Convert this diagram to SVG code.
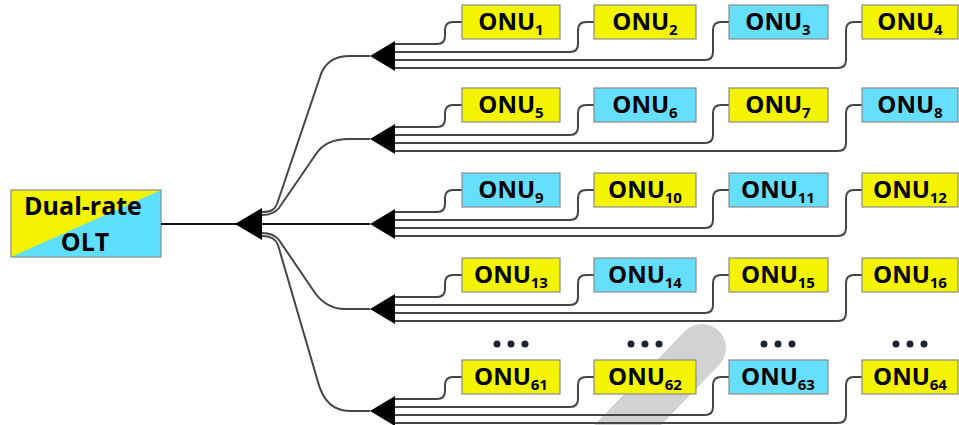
<svg xmlns="http://www.w3.org/2000/svg" width="959" height="425" viewBox="0 0 959 425">
  <style>
    .fiber { fill: none; stroke: #454545; stroke-width: 2; stroke-linecap: butt; }
    .trunk { fill: none; stroke: #111; stroke-width: 2; }
    .split { fill: #000; }
    .box { stroke: #8a8a8a; stroke-width: 1.2; }
    .y { fill: #f4f400; }
    .c { fill: #66dfff; }
    .lbl { font-family: "Open Sans", "Liberation Sans", sans-serif; font-weight: bold; font-size: 24px; fill: #000; text-anchor: middle; }
    .big { font-size: 25px; }
    .sub { font-size: 15px; }
    .dot { fill: #1c2533; }
  </style>

  <!-- light grey band behind the last row -->
  <line x1="702" y1="348" x2="592" y2="462" stroke="#d2d2d2" stroke-width="48" stroke-linecap="round"/>

  <!-- OLT -->
  <g id="olt">
    <rect x="11" y="190" width="150" height="67" fill="#5fdfff"/>
    <polygon points="11,190 161,190 11,257" fill="#f4f400"/>
    <rect x="11" y="190" width="150" height="67" fill="none" stroke="#8a8a8a" stroke-width="1.2"/>
    <text class="lbl big" x="83" y="215">Dual-rate</text>
    <text class="lbl big" x="85" y="251">OLT</text>
  </g>

  <!-- connectors: trunk, 1:5 split, and per-row fibers -->
  <g id="connectors">
    <line class="trunk" x1="161" y1="224" x2="370" y2="224"/>
    <path class="fiber" d="M262,212 C272,212 275,209 277,204 L320,77 C324,63 334,56 350,56 H370"/>
    <path class="fiber" d="M262,215 C270,215 275,213 279,208 L316,154 C322,145 331,139 350,139 H370"/>
    <path class="fiber" d="M262,233 C270,233 275,235 279,240 L313,290 C320,301 329,309 345,309 H370"/>
    <path class="fiber" d="M262,236 C270,236 276,239 278,245 L318,382 C323,401 333,411 350,411 H370"/>

    <!-- row 1 (cy=56) -->
    <path class="fiber" d="M395,44 H437 Q445,44 445,36 V30 Q445,22 453,22 H462"/>
    <path class="fiber" d="M395,52 H570 Q578,52 578,44 V30 Q578,22 586,22 H594"/>
    <path class="fiber" d="M395,60 H705 Q713,60 713,52 V30 Q713,22 721,22 H729"/>
    <path class="fiber" d="M395,68 H838 Q846,68 846,60 V30 Q846,22 854,22 H862"/>
    <!-- row 2 (cy=139) -->
    <path class="fiber" d="M395,127 H437 Q445,127 445,119 V113 Q445,105 453,105 H462"/>
    <path class="fiber" d="M395,135 H570 Q578,135 578,127 V113 Q578,105 586,105 H594"/>
    <path class="fiber" d="M395,143 H705 Q713,143 713,135 V113 Q713,105 721,105 H729"/>
    <path class="fiber" d="M395,151 H838 Q846,151 846,143 V113 Q846,105 854,105 H862"/>
    <!-- row 3 (cy=224) -->
    <path class="fiber" d="M395,212 H437 Q445,212 445,204 V198 Q445,190 453,190 H462"/>
    <path class="fiber" d="M395,220 H570 Q578,220 578,212 V198 Q578,190 586,190 H594"/>
    <path class="fiber" d="M395,228 H705 Q713,228 713,220 V198 Q713,190 721,190 H729"/>
    <path class="fiber" d="M395,236 H838 Q846,236 846,228 V198 Q846,190 854,190 H862"/>
    <!-- row 4 (cy=309) -->
    <path class="fiber" d="M395,297 H437 Q445,297 445,289 V283 Q445,275 453,275 H462"/>
    <path class="fiber" d="M395,305 H570 Q578,305 578,297 V283 Q578,275 586,275 H594"/>
    <path class="fiber" d="M395,313 H705 Q713,313 713,305 V283 Q713,275 721,275 H729"/>
    <path class="fiber" d="M395,321 H838 Q846,321 846,313 V283 Q846,275 854,275 H862"/>
    <!-- row 5 (cy=411) -->
    <path class="fiber" d="M395,399 H437 Q445,399 445,391 V385 Q445,377 453,377 H462"/>
    <path class="fiber" d="M395,407 H570 Q578,407 578,399 V385 Q578,377 586,377 H594"/>
    <path class="fiber" d="M395,415 H705 Q713,415 713,407 V385 Q713,377 721,377 H729"/>
    <path class="fiber" d="M395,423 H838 Q846,423 846,415 V385 Q846,377 854,377 H862"/>
  </g>

  <!-- splitters -->
  <g id="splitter-main"><polygon class="split" points="235,224 262,208 262,240"/></g>
  <g id="splitter-1"><polygon class="split" points="370,56 395,41 395,71"/></g>
  <g id="splitter-2"><polygon class="split" points="370,139 395,124 395,154"/></g>
  <g id="splitter-3"><polygon class="split" points="370,224 395,209 395,239"/></g>
  <g id="splitter-4"><polygon class="split" points="370,309 395,294 395,324"/></g>
  <g id="splitter-5"><polygon class="split" points="370,411 395,396 395,426"/></g>

  <!-- ONUs, row 1 -->
  <g id="onu1"><rect class="box y" x="462" y="5" width="98" height="34"/><text class="lbl" x="511" y="30">ONU<tspan class="sub" dy="5">1</tspan></text></g>
  <g id="onu2"><rect class="box y" x="594" y="5" width="102" height="34"/><text class="lbl" x="645" y="30">ONU<tspan class="sub" dy="5">2</tspan></text></g>
  <g id="onu3"><rect class="box c" x="729" y="5" width="99" height="34"/><text class="lbl" x="778" y="30">ONU<tspan class="sub" dy="5">3</tspan></text></g>
  <g id="onu4"><rect class="box y" x="862" y="5" width="96" height="34"/><text class="lbl" x="910" y="30">ONU<tspan class="sub" dy="5">4</tspan></text></g>

  <!-- row 2 -->
  <g id="onu5"><rect class="box y" x="462" y="88" width="98" height="34"/><text class="lbl" x="511" y="113">ONU<tspan class="sub" dy="5">5</tspan></text></g>
  <g id="onu6"><rect class="box c" x="594" y="88" width="102" height="34"/><text class="lbl" x="645" y="113">ONU<tspan class="sub" dy="5">6</tspan></text></g>
  <g id="onu7"><rect class="box y" x="729" y="88" width="99" height="34"/><text class="lbl" x="778" y="113">ONU<tspan class="sub" dy="5">7</tspan></text></g>
  <g id="onu8"><rect class="box c" x="862" y="88" width="96" height="34"/><text class="lbl" x="910" y="113">ONU<tspan class="sub" dy="5">8</tspan></text></g>

  <!-- row 3 -->
  <g id="onu9"><rect class="box c" x="462" y="173" width="98" height="34"/><text class="lbl" x="511" y="198">ONU<tspan class="sub" dy="5">9</tspan></text></g>
  <g id="onu10"><rect class="box y" x="594" y="173" width="102" height="34"/><text class="lbl" x="645" y="198">ONU<tspan class="sub" dy="5">10</tspan></text></g>
  <g id="onu11"><rect class="box c" x="729" y="173" width="99" height="34"/><text class="lbl" x="778" y="198">ONU<tspan class="sub" dy="5">11</tspan></text></g>
  <g id="onu12"><rect class="box y" x="862" y="173" width="96" height="34"/><text class="lbl" x="910" y="198">ONU<tspan class="sub" dy="5">12</tspan></text></g>

  <!-- row 4 -->
  <g id="onu13"><rect class="box y" x="462" y="258" width="98" height="34"/><text class="lbl" x="511" y="283">ONU<tspan class="sub" dy="5">13</tspan></text></g>
  <g id="onu14"><rect class="box c" x="594" y="258" width="102" height="34"/><text class="lbl" x="645" y="283">ONU<tspan class="sub" dy="5">14</tspan></text></g>
  <g id="onu15"><rect class="box y" x="729" y="258" width="99" height="34"/><text class="lbl" x="778" y="283">ONU<tspan class="sub" dy="5">15</tspan></text></g>
  <g id="onu16"><rect class="box y" x="862" y="258" width="96" height="34"/><text class="lbl" x="910" y="283">ONU<tspan class="sub" dy="5">16</tspan></text></g>

  <!-- ellipsis marks -->
  <g id="ellipsis">
    <circle class="dot" cx="497" cy="344" r="3.5"/><circle class="dot" cx="511" cy="344" r="3.5"/><circle class="dot" cx="525" cy="344" r="3.5"/>
    <circle class="dot" cx="631" cy="344" r="3.5"/><circle class="dot" cx="645" cy="344" r="3.5"/><circle class="dot" cx="659" cy="344" r="3.5"/>
    <circle class="dot" cx="764" cy="344" r="3.5"/><circle class="dot" cx="778" cy="344" r="3.5"/><circle class="dot" cx="792" cy="344" r="3.5"/>
    <circle class="dot" cx="896" cy="344" r="3.5"/><circle class="dot" cx="910" cy="344" r="3.5"/><circle class="dot" cx="924" cy="344" r="3.5"/>
  </g>

  <!-- row 5 -->
  <g id="onu61"><rect class="box y" x="462" y="360" width="98" height="34"/><text class="lbl" x="511" y="385">ONU<tspan class="sub" dy="5">61</tspan></text></g>
  <g id="onu62"><rect class="box y" x="594" y="360" width="102" height="34"/><text class="lbl" x="645" y="385">ONU<tspan class="sub" dy="5">62</tspan></text></g>
  <g id="onu63"><rect class="box c" x="729" y="360" width="99" height="34"/><text class="lbl" x="778" y="385">ONU<tspan class="sub" dy="5">63</tspan></text></g>
  <g id="onu64"><rect class="box y" x="862" y="360" width="96" height="34"/><text class="lbl" x="910" y="385">ONU<tspan class="sub" dy="5">64</tspan></text></g>
</svg>
